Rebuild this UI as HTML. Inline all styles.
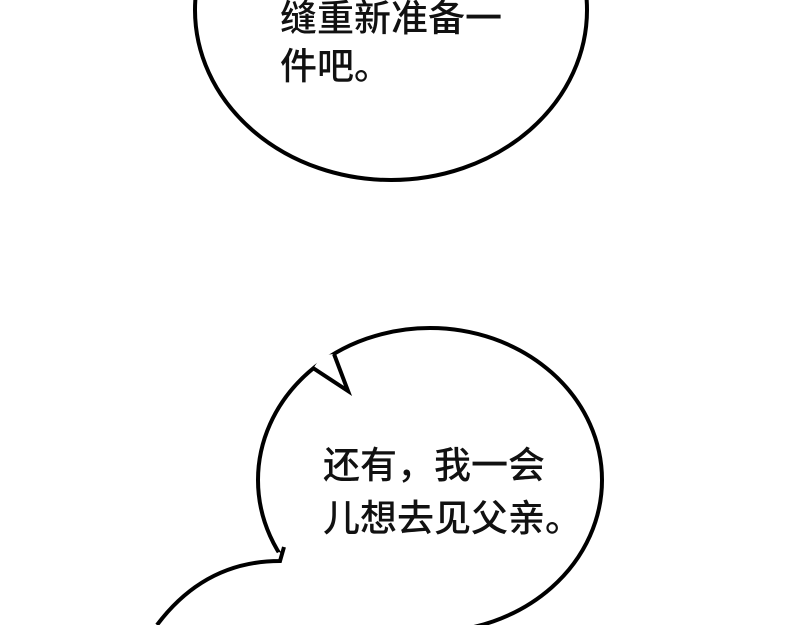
<!DOCTYPE html>
<html><head><meta charset="utf-8"><style>
html,body{margin:0;padding:0;background:#fff;}
svg{display:block;}
text{font-family:"Liberation Sans","Noto Sans CJK SC",sans-serif;font-size:37px;fill:#111;font-weight:500;}
</style></head><body>
<svg width="800" height="625" viewBox="0 0 800 625" xmlns="http://www.w3.org/2000/svg">
<rect width="800" height="625" fill="#fff"/>
<ellipse cx="391" cy="10" rx="196" ry="170" fill="#fff" stroke="#000" stroke-width="4"/>
<text x="280" y="31">缝重新准备一</text>
<text x="280" y="79">件吧。</text>

<ellipse cx="430" cy="480" rx="172" ry="152" fill="#fff" stroke="#000" stroke-width="4"/>
<!-- notch -->
<polygon points="333,354 348,391 314,367 319,360 326,355" fill="#fff"/>
<polyline points="334,354 348,391 313,368" fill="none" stroke="#000" stroke-width="4" stroke-linejoin="miter"/>
<!-- second bubble cover -->
<polygon points="279,552 410,625 150,625" fill="#fff"/>
<path d="M284,547 L280,561 Q205,561 157,625" fill="none" stroke="#000" stroke-width="4" stroke-linejoin="miter"/>
<text x="323" y="478">还有，我一会</text>
<text x="323" y="531">儿想去见父亲。</text>
</svg>
</body></html>
